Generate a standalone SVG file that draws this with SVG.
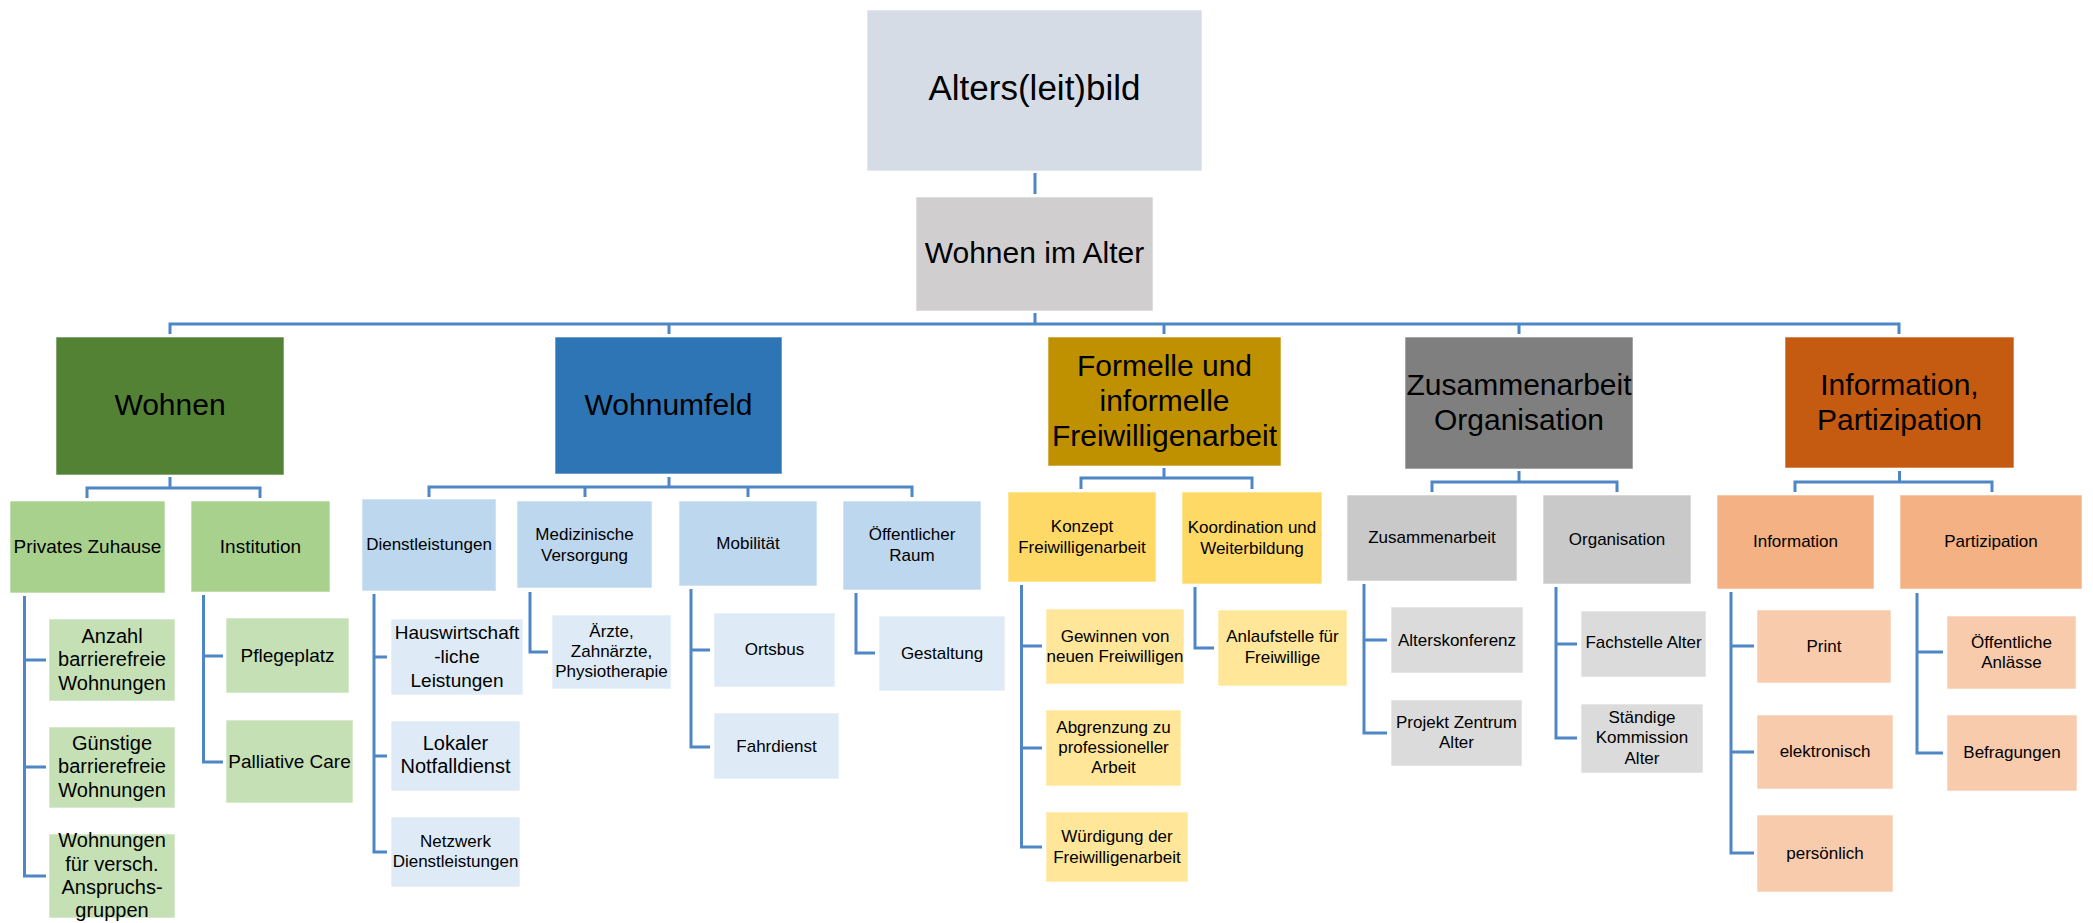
<svg xmlns="http://www.w3.org/2000/svg" width="2093" height="923" viewBox="0 0 2093 923">
<style>
text{font-family:"Liberation Sans",Arial,sans-serif;fill:#000;text-anchor:middle}
.t35{font-size:35px}.t30{font-size:30px}.t20{font-size:20px}.t19{font-size:19px}.t17{font-size:17px}
rect{stroke:#fff;stroke-opacity:.6;stroke-width:1}
.c path{fill:none;stroke:#4E86C6;stroke-width:3}
.a{fill:#D6DCE5}.b{fill:#D0CECE}
.g1{fill:#548235}.g2{fill:#A9D18E}.g3{fill:#C5E0B4}
.b1{fill:#2E75B6}.b2{fill:#BDD7EE}.b3{fill:#DEEBF7}
.y1{fill:#BF9000}.y2{fill:#FFD966}.y3{fill:#FFE699}
.k1{fill:#7F7F7F}.k2{fill:#C9C9C9}.k3{fill:#DBDBDB}
.o1{fill:#C55A11}.o2{fill:#F4B183}.o3{fill:#F8CBAD}
</style>
<rect x="0" y="0" width="2093" height="923" fill="#fff" stroke="none"/>
<g class="c" id="connectors">
<path d="M1035 173V194"/>
<path d="M1035 313V324M170 334V324H1899V334M669 324V334M1164 324V334M1519 324V334"/>
<path d="M170 477V488M87 498V488H260V498"/>
<path d="M669 477V487M429 497V487H912V497M585 487V497M748 487V497"/>
<path d="M1164 468V478M1081 489V478H1252V489"/>
<path d="M1519 471V482M1432 492V482H1617V492"/>
<path d="M1899.5 471V482M1795 492V482H1992V492"/>
<path d="M24.5 596V876H46M24.5 660H46M24.5 767H46"/>
<path d="M203.5 595V762H223M203.5 656H223"/>
<path d="M374 594V852H387M374 657H387M374 756H387"/>
<path d="M530 592V652H548"/>
<path d="M691 589V747H710M691 650H710"/>
<path d="M856 593V653H875"/>
<path d="M1021.5 585V847H1042M1021.5 646H1042M1021.5 748H1042"/>
<path d="M1195 587V648H1214"/>
<path d="M1364 584V733H1387M1364 640H1387"/>
<path d="M1556 587V738H1577M1556 644H1577"/>
<path d="M1731 592V853H1754M1731 646H1754M1731 752H1754"/>
<path d="M1917 593V753H1943M1917 652H1943"/>
</g>
<g id="n-altersleitbild"><rect class="a" x="867" y="10" width="335" height="161"/><text class="t35" x="1034.5" y="100">Alters(leit)bild</text></g>
<g id="n-wohnen-im-alter"><rect class="b" x="916" y="197" width="237" height="114"/><text class="t30" x="1034.5" y="263">Wohnen im Alter</text></g>

<g id="n-wohnen"><rect class="g1" x="56" y="337" width="228" height="138"/><text class="t30" x="170" y="415">Wohnen</text></g>
<g id="n-wohnumfeld"><rect class="b1" x="555" y="337" width="227" height="137"/><text class="t30" x="668.5" y="415">Wohnumfeld</text></g>
<g id="n-formelle"><rect class="y1" x="1048" y="337" width="233" height="129"/><text class="t30" x="1164.5" y="376">Formelle und</text><text class="t30" x="1164.5" y="411">informelle</text><text class="t30" x="1164.5" y="446">Freiwilligenarbeit</text></g>
<g id="n-zusammenarbeit-organisation"><rect class="k1" x="1405" y="337" width="228" height="132"/><text class="t30" x="1519" y="395">Zusammenarbeit</text><text class="t30" x="1519" y="430">Organisation</text></g>
<g id="n-information-partizipation"><rect class="o1" x="1785" y="337" width="229" height="131"/><text class="t30" x="1899.5" y="395">Information,</text><text class="t30" x="1899.5" y="430">Partizipation</text></g>

<g id="n-privates-zuhause"><rect class="g2" x="10" y="501" width="155" height="92"/><text class="t19" x="87.5" y="553">Privates Zuhause</text></g>
<g id="n-institution"><rect class="g2" x="191" y="501" width="139" height="91"/><text class="t19" x="260.5" y="553">Institution</text></g>
<g id="n-dienstleistungen"><rect class="b2" x="362" y="499" width="134" height="92"/><text class="t17" x="429" y="550">Dienstleistungen</text></g>
<g id="n-medizinische"><rect class="b2" x="517" y="501" width="135" height="87"/><text class="t17" x="584.5" y="540">Medizinische</text><text class="t17" x="584.5" y="561">Versorgung</text></g>
<g id="n-mobilitaet"><rect class="b2" x="679" y="501" width="138" height="85"/><text class="t17" x="748" y="549">Mobilität</text></g>
<g id="n-oeffentlicher-raum"><rect class="b2" x="843" y="501" width="138" height="89"/><text class="t17" x="912" y="540">Öffentlicher</text><text class="t17" x="912" y="561">Raum</text></g>
<g id="n-konzept"><rect class="y2" x="1008" y="492" width="148" height="90"/><text class="t17" x="1082" y="532">Konzept</text><text class="t17" x="1082" y="553">Freiwilligenarbeit</text></g>
<g id="n-koordination"><rect class="y2" x="1182" y="492" width="140" height="92"/><text class="t17" x="1252" y="533">Koordination und</text><text class="t17" x="1252" y="554">Weiterbildung</text></g>
<g id="n-zusammenarbeit"><rect class="k2" x="1347" y="495" width="170" height="86"/><text class="t17" x="1432" y="543">Zusammenarbeit</text></g>
<g id="n-organisation"><rect class="k2" x="1543" y="495" width="148" height="89"/><text class="t17" x="1617" y="545">Organisation</text></g>
<g id="n-information"><rect class="o2" x="1717" y="495" width="157" height="94"/><text class="t17" x="1795.5" y="547">Information</text></g>
<g id="n-partizipation"><rect class="o2" x="1900" y="495" width="182" height="94"/><text class="t17" x="1991" y="547">Partizipation</text></g>

<g id="n-anzahl"><rect class="g3" x="49" y="619" width="126" height="82"/><text class="t20" x="112" y="643">Anzahl</text><text class="t20" x="112" y="666">barrierefreie</text><text class="t20" x="112" y="690">Wohnungen</text></g>
<g id="n-guenstige"><rect class="g3" x="49" y="727" width="126" height="81"/><text class="t20" x="112" y="750">Günstige</text><text class="t20" x="112" y="773">barrierefreie</text><text class="t20" x="112" y="797">Wohnungen</text></g>
<g id="n-wohnungen-versch"><rect class="g3" x="49" y="834" width="126" height="84"/><text class="t20" x="112" y="847">Wohnungen</text><text class="t20" x="112" y="871">für versch.</text><text class="t20" x="112" y="894">Anspruchs-</text><text class="t20" x="112" y="917">gruppen</text></g>
<g id="n-pflegeplatz"><rect class="g3" x="226" y="618" width="123" height="75"/><text class="t19" x="287.5" y="662">Pflegeplatz</text></g>
<g id="n-palliative"><rect class="g3" x="226" y="720" width="127" height="83"/><text class="t19" x="289.5" y="768">Palliative Care</text></g>
<g id="n-hauswirtschaft"><rect class="b3" x="391" y="619" width="132" height="76"/><text class="t19" x="457" y="639">Hauswirtschaft</text><text class="t19" x="457" y="663">-liche</text><text class="t19" x="457" y="687">Leistungen</text></g>
<g id="n-lokaler"><rect class="b3" x="391" y="721" width="129" height="70"/><text class="t20" x="455.5" y="750">Lokaler</text><text class="t20" x="455.5" y="773">Notfalldienst</text></g>
<g id="n-netzwerk"><rect class="b3" x="391" y="817" width="129" height="70"/><text class="t17" x="455.5" y="847">Netzwerk</text><text class="t17" x="455.5" y="867">Dienstleistungen</text></g>
<g id="n-aerzte"><rect class="b3" x="552" y="615" width="119" height="74"/><text class="t17" x="611.5" y="637">Ärzte,</text><text class="t17" x="611.5" y="657">Zahnärzte,</text><text class="t17" x="611.5" y="677">Physiotherapie</text></g>
<g id="n-ortsbus"><rect class="b3" x="714" y="613" width="121" height="74"/><text class="t17" x="774.5" y="655">Ortsbus</text></g>
<g id="n-fahrdienst"><rect class="b3" x="714" y="713" width="125" height="66"/><text class="t17" x="776.5" y="752">Fahrdienst</text></g>
<g id="n-gestaltung"><rect class="b3" x="879" y="616" width="126" height="75"/><text class="t17" x="942" y="659">Gestaltung</text></g>
<g id="n-gewinnen"><rect class="y3" x="1046" y="609" width="138" height="75"/><text class="t17" x="1115" y="642">Gewinnen von</text><text class="t17" x="1115" y="662">neuen Freiwilligen</text></g>
<g id="n-abgrenzung"><rect class="y3" x="1046" y="710" width="135" height="76"/><text class="t17" x="1113.5" y="733">Abgrenzung zu</text><text class="t17" x="1113.5" y="753">professioneller</text><text class="t17" x="1113.5" y="773">Arbeit</text></g>
<g id="n-wuerdigung"><rect class="y3" x="1046" y="812" width="142" height="70"/><text class="t17" x="1117" y="842">Würdigung der</text><text class="t17" x="1117" y="863">Freiwilligenarbeit</text></g>
<g id="n-anlaufstelle"><rect class="y3" x="1218" y="610" width="129" height="76"/><text class="t17" x="1282.5" y="642">Anlaufstelle für</text><text class="t17" x="1282.5" y="663">Freiwillige</text></g>
<g id="n-alterskonferenz"><rect class="k3" x="1391" y="607" width="132" height="66"/><text class="t17" x="1457" y="646">Alterskonferenz</text></g>
<g id="n-projekt"><rect class="k3" x="1391" y="700" width="131" height="66"/><text class="t17" x="1456.5" y="728">Projekt Zentrum</text><text class="t17" x="1456.5" y="748">Alter</text></g>
<g id="n-fachstelle"><rect class="k3" x="1581" y="611" width="125" height="66"/><text class="t17" x="1643.5" y="648">Fachstelle Alter</text></g>
<g id="n-staendige"><rect class="k3" x="1581" y="704" width="122" height="69"/><text class="t17" x="1642" y="723">Ständige</text><text class="t17" x="1642" y="743">Kommission</text><text class="t17" x="1642" y="764">Alter</text></g>
<g id="n-print"><rect class="o3" x="1757" y="610" width="134" height="73"/><text class="t17" x="1824" y="652">Print</text></g>
<g id="n-elektronisch"><rect class="o3" x="1757" y="715" width="136" height="74"/><text class="t17" x="1825" y="757">elektronisch</text></g>
<g id="n-persoenlich"><rect class="o3" x="1757" y="815" width="136" height="77"/><text class="t17" x="1825" y="859">persönlich</text></g>
<g id="n-oeffentliche-anlaesse"><rect class="o3" x="1947" y="616" width="129" height="73"/><text class="t17" x="2011.5" y="648">Öffentliche</text><text class="t17" x="2011.5" y="668">Anlässe</text></g>
<g id="n-befragungen"><rect class="o3" x="1947" y="715" width="130" height="76"/><text class="t17" x="2012" y="758">Befragungen</text></g>
</svg>
